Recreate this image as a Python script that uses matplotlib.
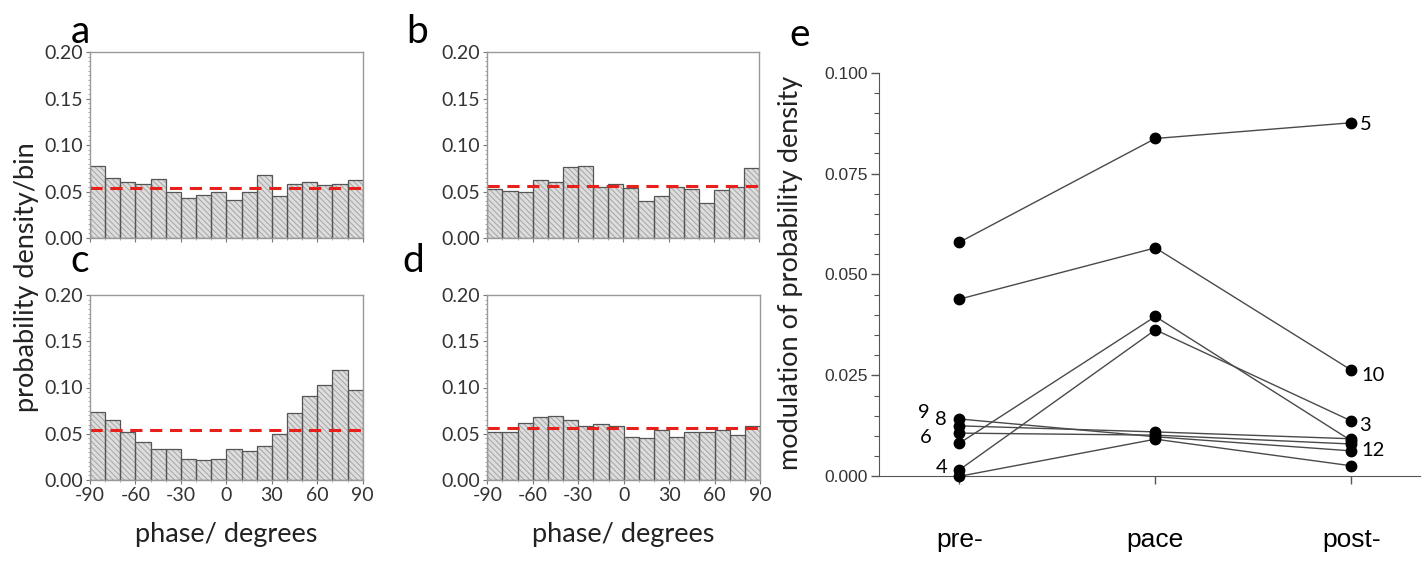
import numpy as np
import matplotlib.pyplot as plt
from matplotlib.ticker import MultipleLocator
from matplotlib.transforms import ScaledTranslation

# phase histograms (bins of 10 degrees, left edges)
bin_left = [-90, -80, -70, -60, -50, -40, -30, -20, -10, 0, 10, 20, 30, 40, 50, 60, 70, 80]
phase_ticks = [-90, -60, -30, 0, 30, 60, 90]
density_ticks = [0.00, 0.05, 0.10, 0.15, 0.20]

hist_a = [0.077, 0.065, 0.060, 0.058, 0.063, 0.049, 0.043, 0.046, 0.049,
          0.041, 0.050, 0.068, 0.045, 0.058, 0.060, 0.057, 0.058, 0.062]
hist_b = [0.053, 0.051, 0.049, 0.062, 0.060, 0.076, 0.077, 0.055, 0.058,
          0.054, 0.040, 0.045, 0.055, 0.053, 0.038, 0.052, 0.055, 0.075]
hist_c = [0.074, 0.065, 0.052, 0.041, 0.033, 0.034, 0.023, 0.022, 0.023,
          0.033, 0.031, 0.037, 0.050, 0.072, 0.091, 0.103, 0.119, 0.097]
hist_d = [0.052, 0.052, 0.062, 0.068, 0.069, 0.065, 0.058, 0.061, 0.058,
          0.047, 0.045, 0.054, 0.047, 0.052, 0.052, 0.054, 0.049, 0.058]
uniform_level = [0.054, 0.056, 0.0545, 0.056]

# modulation per animal: pre-, pace, post-
conditions = ["pre-", "pace", "post-"]
modulation = [
    [0.0580, 0.0837, 0.0876],
    [0.0439, 0.0566, 0.0263],
    [0.0082, 0.0396, 0.0088],
    [0.0016, 0.0363, 0.0137],
    [0.0142, 0.0098, 0.0063],
    [0.0125, 0.0110, 0.0093],
    [0.0107, 0.0102, 0.0080],
    [0.0000, 0.0092, 0.0026],
]
left_labels = {4: "9", 5: "8", 6: "6", 3: "4"}
right_labels = {0: "5", 1: "10", 3: "3", 4: "12"}

CAL = ["Lato", "DejaVu Sans"]
ARIAL = ["Liberation Sans", "DejaVu Sans"]
W, H = 1427, 561

plt.rcParams["hatch.linewidth"] = 0.7


def frac(x0, y0, x1, y1):
    return [x0 / W, 1 - y1 / H, (x1 - x0) / W, (y1 - y0) / H]


fig = plt.figure(figsize=(W / 100, H / 100), dpi=100)

boxes = [frac(90, 52, 362.7, 238), frac(487.3, 52, 759.3, 238),
         frac(90, 295, 362.7, 480), frac(487.3, 295, 760, 480)]
hists = [hist_a, hist_b, hist_c, hist_d]
letters = ["a", "b", "c", "d"]
letter_xy = [(80, 43), (417, 43), (80, 272), (413, 272)]

for i, (box, vals) in enumerate(zip(boxes, hists)):
    ax = fig.add_axes(box)
    ax.bar(bin_left, vals, width=10, align="edge", color="#dddddd",
           edgecolor="#a5a5a5", hatch="\\\\\\\\\\\\", linewidth=0)
    ax.bar(bin_left, vals, width=10, align="edge", fill=False,
           edgecolor="#555555", linewidth=0.9)
    ax.axhline(uniform_level[i], color="#e8201c", linestyle=(0, (4, 2.5)), linewidth=2.2)
    ax.set_xlim(-90, 90)
    ax.set_ylim(0, 0.2)
    ax.set_yticks(density_ticks)
    ax.set_yticklabels([f"{v:.2f}" for v in density_ticks], family=CAL, fontsize=14, color="#333333")
    ax.yaxis.set_minor_locator(MultipleLocator(0.005))
    ax.set_xticks(phase_ticks)
    ax.xaxis.set_minor_locator(MultipleLocator(10))
    if i >= 2:
        ax.set_xticklabels([str(v) for v in phase_ticks], family=CAL, fontsize=14, color="#333333")
        ax.set_xlabel("phase/ degrees", family=CAL, fontsize=19.5, labelpad=13, color="#222222")
    else:
        ax.set_xticklabels([])
    ax.tick_params(which="major", length=3, width=0.8, color="#777777", pad=2)
    ax.tick_params(which="minor", length=1.5, width=0.6, color="#999999")
    for sp in ax.spines.values():
        sp.set_color("#999999")
        sp.set_linewidth(1.0)
    fig.text(letter_xy[i][0] / W, 1 - letter_xy[i][1] / H, letters[i],
             family=CAL, fontsize=28, ha="center", va="baseline")

fig.text(27 / W, 1 - 277 / H, "probability density/bin", family=CAL, fontsize=19.5,
         rotation=90, ha="center", va="center", color="#222222")

# panel e
ax = fig.add_axes(frac(879, 72.7, 1420, 476.3))
x = np.arange(len(conditions))
for k, row in enumerate(modulation):
    ax.plot(x, row, color="#4a4a4a", linewidth=1.0, marker="o", markersize=7.5,
            markerfacecolor="black", markeredgecolor="black", clip_on=False, zorder=3)

left_off = {"9": (-36, 6), "8": (-18, 6), "6": (-34, -4), "4": (-18, 2)}
right_off = {"5": (8, -2), "10": (10, -5), "3": (8, -4), "12": (10, 0)}
for k, lab in left_labels.items():
    ax.annotate(lab, (x[0], modulation[k][0]), xytext=left_off[lab], textcoords="offset pixels",
                ha="center", va="center", family=CAL, fontsize=14.5)
for k, lab in right_labels.items():
    ax.annotate(lab, (x[-1], modulation[k][-1]), xytext=right_off[lab], textcoords="offset pixels",
                ha="left", va="center", family=CAL, fontsize=14.5)

ax.set_xlim(-0.41, 2.35)
ax.set_ylim(0, 0.1)
ax.set_yticks([0.0, 0.025, 0.05, 0.075, 0.1])
ax.set_yticklabels(["0.000", "0.025", "0.050", "0.075", "0.100"], family=ARIAL, fontsize=12.5, color="#333333")
ax.yaxis.set_minor_locator(MultipleLocator(0.005))
ax.set_xticks(x)
ax.set_xticklabels(conditions, family=ARIAL, fontsize=19)
shifts = [-22, -9, 17]
for lab, dx in zip(ax.get_xticklabels(), shifts):
    lab.set_transform(lab.get_transform() + ScaledTranslation(dx / 100, 0, fig.dpi_scale_trans))
ax.tick_params(axis="x", length=6, width=1, color="#555555", pad=31)
ax.tick_params(axis="y", which="major", length=6, width=1, color="#555555", pad=2)
ax.tick_params(axis="y", which="minor", length=3.5, width=0.8, color="#555555")
ax.spines["top"].set_visible(False)
ax.spines["right"].set_visible(False)
ax.spines["left"].set_color("#555555")
ax.spines["bottom"].set_color("#555555")
ax.set_ylabel("modulation of probability density", family=CAL, fontsize=19.5, color="#222222")
ax.yaxis.set_label_coords((803 - 879) / 541, (476.3 - 273) / 403.6)
fig.text(800 / W, 1 - 46 / H, "e", family=CAL, fontsize=28, ha="center", va="baseline")

fig.savefig("out.png", dpi=100)
